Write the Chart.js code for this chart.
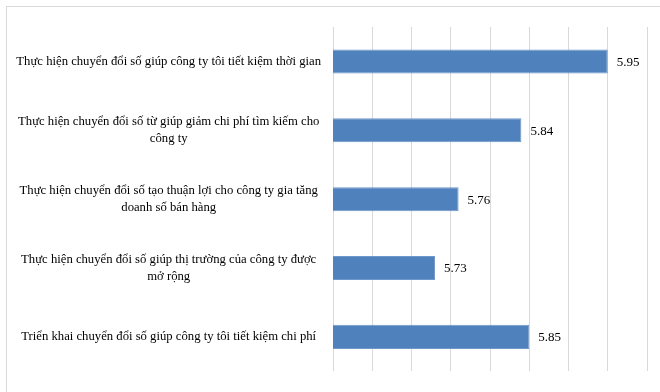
<!DOCTYPE html>
<html>
<head>
<meta charset="utf-8">
<script src="https://cdn.jsdelivr.net/npm/chart.js@4/dist/chart.umd.min.js"></script>
<style>
  body { margin: 0; background: #fff; }
  #frame { position: absolute; left: 6px; top: 6px; width: 700px; height: 420px; border: 1px solid #d9d9d9; }
  #wrap { position: absolute; left: 0; top: 0; width: 660px; height: 392px; }
</style>
</head>
<body>
<div id="frame"></div>
<div id="wrap"><canvas id="chart"></canvas></div>
<script>
// categories, top to bottom
const categories = [
  "Thực hiện chuyển đổi số giúp công ty tôi tiết kiệm thời gian",
  ["Thực hiện chuyển đổi số từ giúp giảm chi phí tìm kiếm cho", "công ty"],
  ["Thực hiện chuyển đổi số tạo thuận lợi cho công ty gia tăng", "doanh số bán hàng"],
  ["Thực hiện chuyển đổi số giúp thị trường của công ty được", "mở rộng"],
  "Triển khai chuyển đổi số giúp công ty tôi tiết kiệm chi phí"
];
const values = [5.95, 5.84, 5.76, 5.73, 5.85];
const axisMin = 5.6;
const axisMax = 6.0;
const axisStep = 0.05;

// draws the value next to each bar
const valueLabels = {
  id: "valueLabels",
  afterDatasetsDraw(chart) {
    const ctx = chart.ctx;
    const meta = chart.getDatasetMeta(0);
    ctx.save();
    ctx.font = "13px 'Liberation Serif', 'Times New Roman', serif";
    ctx.fillStyle = "#000";
    ctx.textAlign = "left";
    ctx.textBaseline = "middle";
    meta.data.forEach((bar, i) => {
      ctx.fillText(values[i].toFixed(2), bar.x + 9, bar.y + 1);
    });
    ctx.restore();
  }
};

new Chart(document.getElementById("chart"), {
  type: "bar",
  data: {
    labels: categories,
    datasets: [{
      data: values,
      backgroundColor: "#4f81bd",
      borderColor: "#6f97c9",
      borderWidth: 1,
      categoryPercentage: 1,
      barPercentage: 0.35
    }]
  },
  options: {
    indexAxis: "y",
    responsive: true,
    maintainAspectRatio: false,
    animation: false,
    layout: { padding: { top: 27, bottom: 19, left: 0, right: 13 } },
    plugins: { legend: { display: false }, tooltip: { enabled: false } },
    scales: {
      x: {
        min: axisMin,
        max: axisMax,
        ticks: { display: false, stepSize: axisStep },
        grid: { color: "#d9d9d9", drawTicks: false },
        border: { display: false }
      },
      y: {
        grid: { display: false, drawTicks: false },
        border: { display: false },
        afterFit(scale) { scale.width = 333; },
        ticks: {
          crossAlign: "center",
          padding: 12,
          color: "#000",
          font: { family: "'Liberation Serif', 'Times New Roman', serif", size: 12.7, lineHeight: 1.36 }
        }
      }
    }
  },
  plugins: [valueLabels]
});
</script>
</body>
</html>
